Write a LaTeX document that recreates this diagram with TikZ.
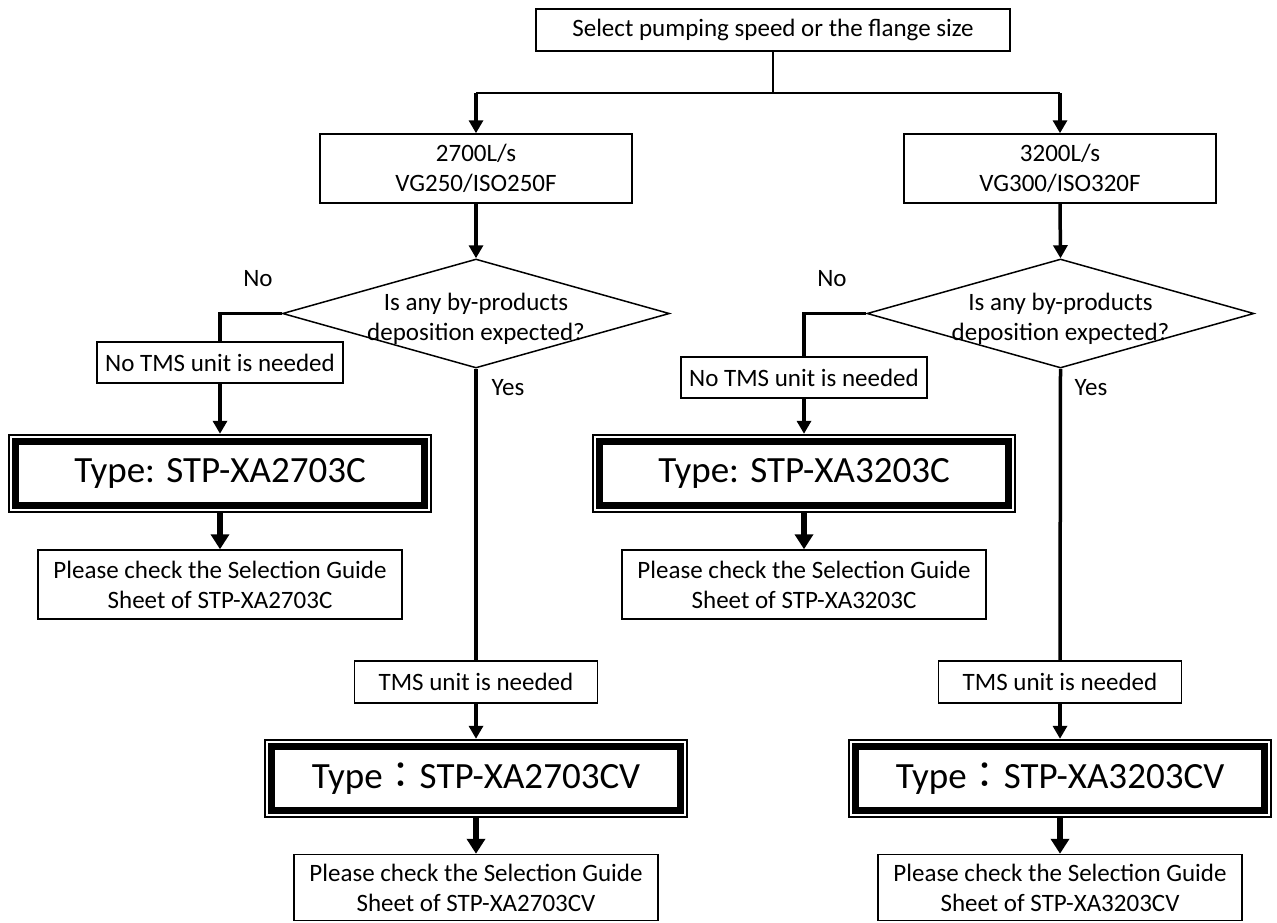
\documentclass[tikz,border=0pt]{standalone}
\usepackage{fontspec}
\setmainfont{Carlito}
\newfontfamily\cjk{Noto Sans CJK JP}
\usetikzlibrary{arrows.meta,calc,shapes.geometric}
\newcommand{\tframe}[1]{%
  \draw[line width=2pt] ($(#1.north west)+(1,1)$) rectangle ($(#1.south east)+(-1,-1)$);
  \draw[line width=7pt] ($(#1.north west)+(7.5,7.5)$) rectangle ($(#1.south east)+(-7.5,-7.5)$);}
\begin{document}
\begin{tikzpicture}[x=1pt,y=-1pt,
  box/.style={draw,line width=1.5pt,inner sep=0pt,align=center,font=\fontsize{25}{30}\selectfont},
  dia/.style={draw,line width=1.5pt,shape=diamond,minimum width=387pt,minimum height=109pt,inner sep=0pt},
  arr/.style={line width=3.5pt,-{Triangle[width=14pt,length=13pt]}},
  ln/.style={line width=3.5pt},
  thinln/.style={line width=1.5pt},
  bigarr/.style={line width=6pt,-{Triangle[width=18pt,length=15pt]}},
  typebox/.style={inner sep=0pt,minimum width=424pt,minimum height=79pt,font=\fontsize{37}{40}\selectfont},
  lbl/.style={font=\fontsize{25}{30}\selectfont,inner sep=0pt,align=center},
]
\useasboundingbox (0,0) rectangle (1277,922);
\fill[white] (0,0) rectangle (1277,922);

\node[box,minimum width=474pt,minimum height=42pt] (top) at (773,30) {Select pumping speed or the flange size};
\coordinate (split) at (773,93);
\node[box,minimum width=312pt,minimum height=69pt] (sa) at (476,168.5) {2700L/s\\VG250/ISO250F};
\node[box,minimum width=312pt,minimum height=69pt] (sb) at (1060,168.5) {3200L/s\\VG300/ISO320F};

\node[dia] (da) at (476,313.5) {};
\node[lbl] (dat) at (476,319) {Is any by-products\\deposition expected?};
\node[dia] (db) at (1060.5,313.5) {};
\node[lbl] (dbt) at (1060.5,319) {Is any by-products\\deposition expected?};

\node[box,minimum width=246pt,minimum height=41pt] (na) at (220,362.5) {No TMS unit is needed};
\node[box,minimum width=246pt,minimum height=41pt] (nb) at (804,377.5) {No TMS unit is needed};

\node[typebox] (ta) at (220,473.5) {Type: STP-XA2703C};
\tframe{ta}
\node[typebox] (tb) at (804,473.5) {Type: STP-XA3203C};
\tframe{tb}

\node[box,minimum width=364pt,minimum height=69pt] (pa) at (220,584.5) {Please check the Selection Guide\\Sheet of STP-XA2703C};
\node[box,minimum width=364pt,minimum height=69pt] (pb) at (804,584.5) {Please check the Selection Guide\\Sheet of STP-XA3203C};

\node[box,minimum width=243pt,minimum height=42pt] (ya) at (476,682) {TMS unit is needed};
\node[box,minimum width=243pt,minimum height=42pt] (yb) at (1060,682) {TMS unit is needed};

\node[typebox] (tva) at (476,778.5) {Type{\cjk ：}STP-XA2703CV};
\tframe{tva}
\node[typebox] (tvb) at (1060,778.5) {Type{\cjk ：}STP-XA3203CV};
\tframe{tvb}

\node[box,minimum width=364pt,minimum height=66pt] (pva) at (476,887.5) {Please check the Selection Guide\\Sheet of STP-XA2703CV};
\node[box,minimum width=364pt,minimum height=66pt] (pvb) at (1060,887.5) {Please check the Selection Guide\\Sheet of STP-XA3203CV};

\node[lbl] (noa) at (258,279) {No};
\node[lbl] (nob) at (832,279) {No};
\node[lbl] (yesa) at (508,388) {Yes};
\node[lbl] (yesb) at (1091,388) {Yes};

% connectors
\draw[thinln] (top.south) -- (split);
\draw[thinln] (sa.north |- split) -- (sb.north |- split);
\draw[arr] (sa.north |- split) -- (sa.north);
\draw[arr] (sb.north |- split) -- (sb.north);
\draw[arr] (sa.south) -- (da.north);
\draw[arr] (sb.south) -- (db.north);

\draw[ln] (da.west) -- (da.west -| na.north) -- (na.north);
\draw[ln] (db.west) -- (db.west -| nb.north) -- (nb.north);
\draw[arr] (na.south) -- (ta.north);
\draw[arr] (nb.south) -- (tb.north);
\draw[bigarr] (ta.south) -- (pa.north);
\draw[bigarr] (tb.south) -- (pb.north);

\draw[ln] (da.south) -- (ya.north);
\draw[ln] (db.south) -- (yb.north);
\draw[arr] (ya.south) -- (tva.north);
\draw[arr] (yb.south) -- (tvb.north);
\draw[bigarr] (tva.south) -- (pva.north);
\draw[bigarr] (tvb.south) -- (pvb.north);
\end{tikzpicture}
\end{document}
